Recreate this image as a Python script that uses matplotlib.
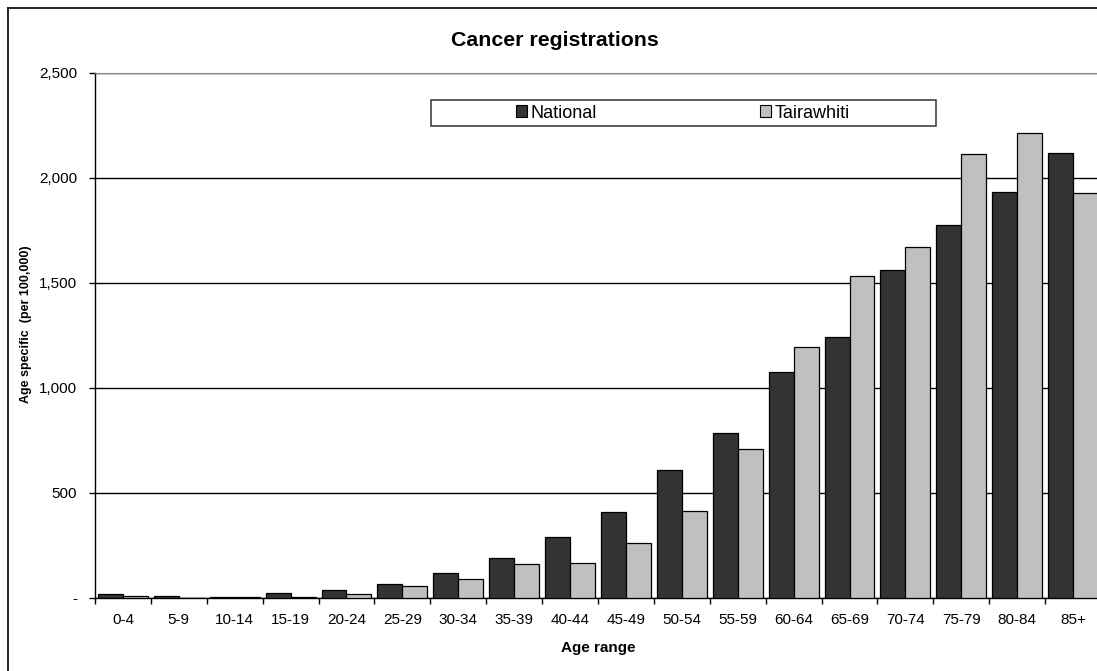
import numpy as np
import matplotlib
matplotlib.use('Agg')
import matplotlib.pyplot as plt
from matplotlib.patches import Rectangle, Patch
from matplotlib.lines import Line2D
from matplotlib.ticker import FuncFormatter

age_ranges = ['0-4', '5-9', '10-14', '15-19', '20-24', '25-29', '30-34', '35-39',
              '40-44', '45-49', '50-54', '55-59', '60-64', '65-69', '70-74',
              '75-79', '80-84', '85+']
national = [20, 8, 7, 24, 40, 66, 120, 189, 292, 410, 611, 787, 1073, 1241,
            1562, 1773, 1930, 2118]
tairawhiti = [11, 0, 4, 4, 19, 57, 89, 160, 168, 260, 416, 708, 1194, 1530,
              1670, 2114, 2210, 1927]

plt.rcParams['font.family'] = ['Liberation Sans', 'DejaVu Sans']

W, H = 1097, 671
fig = plt.figure(figsize=(W / 100, H / 100), dpi=100)
fig.patch.set_facecolor('white')

# plot area runs a little past the right edge of the picture
left, right, top, bottom = 95, 1101, 72.5, 598
ax = fig.add_axes([left / W, 1 - bottom / H, (right - left) / W, (bottom - top) / H])

x = np.arange(len(age_ranges))
w = 0.447
ax.bar(x - w / 2, national, w, color='#333333', edgecolor='black', linewidth=0.9, zorder=3)
ax.bar(x + w / 2, tairawhiti, w, color='#c0c0c0', edgecolor='black', linewidth=0.9, zorder=3)

ax.set_xlim(-0.5, len(age_ranges) - 0.5)
ax.set_ylim(0, 2500)
ax.set_yticks([0, 500, 1000, 1500, 2000, 2500])
ax.yaxis.set_major_formatter(FuncFormatter(lambda v, p: '-' if v == 0 else '{:,.0f}'.format(v)))
ax.yaxis.grid(True, color='black', linewidth=1)
ax.set_axisbelow(True)

ax.set_xticks(x)
ax.set_xticklabels(age_ranges)
ax.set_xticks(np.arange(len(age_ranges) + 1) - 0.5, minor=True)
ax.tick_params(axis='x', which='major', length=0, pad=11, labelsize=11)
ax.tick_params(axis='x', which='minor', length=4, width=1, direction='out')
ax.tick_params(axis='y', length=4, width=1, direction='out', pad=9, labelsize=11)

for s in ['left', 'bottom']:
    ax.spines[s].set_color('black')
    ax.spines[s].set_linewidth(1)
ax.spines['top'].set_color('#888888')
ax.spines['right'].set_visible(False)

ax.set_xlabel('Age range', fontsize=11, fontweight='bold', labelpad=10)
ax.set_ylabel('Age specific  (per 100,000)', fontsize=9, fontweight='bold')
ax.yaxis.set_label_coords((32 - left) / (right - left), (bottom - 324) / (bottom - top))

fig.text(555 / W, 1 - 40 / H, 'Cancer registrations', ha='center', va='center',
         fontsize=15.3, fontweight='bold')

# outer chart frame (only top and left visible)
fig.add_artist(Line2D([8 / W, 8 / W], [0, 1 - 7.5 / H], color='black', linewidth=1.2))
fig.add_artist(Line2D([8 / W, 1], [1 - 7.5 / H, 1 - 7.5 / H], color='black', linewidth=1.2))

# legend frame
fig.add_artist(Rectangle((431 / W, 1 - 126 / H), (936 - 431) / W, 26 / H,
                         transform=fig.transFigure, facecolor='white',
                         edgecolor='#333333', linewidth=1.1, zorder=5))
handles = [Patch(facecolor='#333333', edgecolor='black', linewidth=0.8, label='National'),
           Patch(facecolor='#c0c0c0', edgecolor='black', linewidth=0.8, label='Tairawhiti')]
leg = fig.legend(handles=handles, loc='center', bbox_to_anchor=(683 / W, 1 - 113 / H),
                 ncol=2, frameon=False, fontsize=13, handlelength=0.6,
                 handleheight=0.6, handletextpad=0.2, columnspacing=9.0)
leg.set_zorder(6)

fig.savefig('out.png', dpi=100)
